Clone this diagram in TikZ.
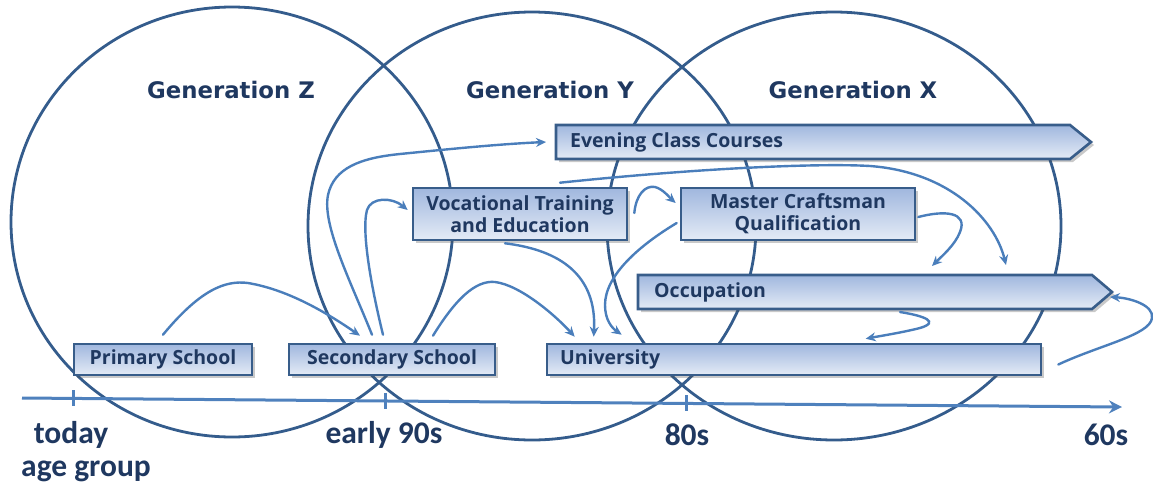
\documentclass[tikz,border=0pt]{standalone}
\usepackage{fontspec}
\setmainfont{Open Sans}
\newfontfamily\genfont{DejaVu Sans}
\newfontfamily\axfont{Carlito}
\usetikzlibrary{arrows.meta,shadows}
\definecolor{circ}{RGB}{52,92,140}
\definecolor{boxdraw}{RGB}{56,93,138}
\definecolor{boxtop}{RGB}{160,183,222}
\definecolor{boxbot}{RGB}{228,235,246}
\definecolor{txt}{RGB}{31,56,96}
\definecolor{arr}{RGB}{74,126,187}
\definecolor{axiscol}{RGB}{79,129,189}
\begin{document}
\begin{tikzpicture}[x=1pt,y=-1pt,
  ring/.style={draw=circ, line width=2.8pt},
  shad/.style={drop shadow={opacity=0.3, shadow xshift=3pt, shadow yshift=-3pt, fill=black!70}},
  box/.style={draw=boxdraw, line width=2.6pt, top color=boxtop, bottom color=boxbot, text=txt,
    font=\bfseries\fontsize{19.5}{22}\selectfont, inner sep=0pt, shad},
  shapebox/.style={draw=boxdraw, line width=2.6pt, top color=boxtop, bottom color=boxbot, shad},
  boxtext/.style={text=txt, font=\bfseries\fontsize{19.5}{22}\selectfont, inner sep=0pt},
  gen/.style={text=txt, font=\genfont\bfseries\fontsize{22.8}{26}\selectfont, inner sep=0pt},
  axl/.style={text=txt, font=\axfont\bfseries\fontsize{31.5}{36}\selectfont, inner sep=0pt},
  conn/.style={draw=arr, line width=2.4pt, line cap=round, -{Stealth[length=10pt,width=9pt]}},
  axisline/.style={draw=axiscol, line width=3pt}
]
\useasboundingbox (0,0) rectangle (1153,485);
\clip (0,0) rectangle (1153,485);

% generation circles
\draw[ring] (232,222) ellipse [x radius=221, y radius=215];
\draw[ring] (532,226) ellipse [x radius=224, y radius=214];
\draw[ring] (834,226) ellipse [x radius=227, y radius=214];

\node[gen] (gz) at (231,90) {Generation Z};
\node[gen] (gy) at (550,90) {Generation Y};
\node[gen] (gx) at (853,90) {Generation X};

% axis
\coordinate (a0) at (22,398);
\coordinate (a1) at (1122,407);
\draw[axisline, -{Stealth[length=13pt,width=13pt]}] (a0) -- (a1);
\draw[axisline] (73,390) -- (73,406);
\draw[axisline] (385,393) -- (385,409);
\draw[axisline] (686,395) -- (686,411);

\node[axl] (t0) at (71,435) {today};
\node[axl] (t1) at (384,435) {early 90s};
\node[axl] (t2) at (687,435) {80s};
\node[axl] (t3) at (1106,435) {60s};
\node[axl, anchor=base west] (ag) at (21,476) {age group};

% boxes
\node[box, minimum width=178, minimum height=31] (ps) at (163,359.5) {Primary School};
\node[box, minimum width=206, minimum height=31] (ss) at (392,359.5) {Secondary School};
\node[box, minimum width=494, minimum height=31, text width=468, align=left] (uni) at (794,359.5) {University};
\node[box, minimum width=214, minimum height=52, align=center] (voc) at (520,214) {Vocational Training\\and Education};
\node[box, minimum width=234, minimum height=52, align=center] (mc) at (798,214) {Master Craftsman\\Qualification};

\path[shapebox] (556,125) -- (1070,125) -- (1091,142) -- (1070,159) -- (556,159) -- cycle;
\node[boxtext, anchor=west] (ev) at (570,142) {Evening Class Courses};
\path[shapebox] (638,275) -- (1092,275) -- (1112,292) -- (1092,309) -- (638,309) -- cycle;
\node[boxtext, anchor=west] (occ) at (654,292) {Occupation};

% connectors
\draw[conn] ([yshift=8pt]ps.north) .. controls (200,290) and (225,280) .. (248,283)
  .. controls (290,290) and (330,315) .. ([xshift=-32pt,yshift=7pt]ss.north);
\draw[conn] ([xshift=-20pt,yshift=8pt]ss.north) .. controls (350,280) and (322,225) .. (328,195)
  .. controls (334,168) and (360,158) .. (400,154) .. controls (450,149) and (500,144) .. ([xshift=-24pt]ev.west);
\draw[conn] ([xshift=-9pt,yshift=8pt]ss.north) .. controls (372,290) and (361,232) .. (367,210)
  .. controls (371,197) and (392,197) .. ([xshift=-4pt,yshift=4pt]voc.west);
\draw[conn] ([xshift=41pt,yshift=7pt]ss.north) .. controls (455,300) and (475,280) .. (495,282)
  .. controls (520,285) and (555,315) .. ([xshift=29pt,yshift=6pt]uni.north west);
\draw[conn] ([xshift=-15pt,yshift=-2pt]voc.south) .. controls (560,250) and (597,275) .. ([xshift=48pt,yshift=6pt]uni.north west);
\draw[conn] ([xshift=-3pt,yshift=-9pt]mc.west) .. controls (640,245) and (605,275) .. (605,305)
  .. controls (605,320) and (612,328) .. ([xshift=76pt,yshift=8pt]uni.north west);
\draw[conn] ([xshift=6pt,yshift=1pt]voc.east) .. controls (636,195) and (645,185) .. (655,187)
  .. controls (663,189) and (670,198) .. ([xshift=-4pt,yshift=11pt]mc.west);
\draw[conn] ([xshift=40pt,yshift=4pt]voc.north) .. controls (700,168) and (820,163) .. (870,166)
  .. controls (950,172) and (995,220) .. ([xshift=352pt,yshift=27pt]occ.west);
\draw[conn] ([xshift=2pt,yshift=-3pt]mc.east) .. controls (945,210) and (968,212) .. (960,232)
  .. controls (955,245) and (942,256) .. ([xshift=278pt,yshift=26pt]occ.west);
\draw[conn] ([xshift=246pt,yshift=-20pt]occ.west) .. controls (925,316) and (940,322) .. (920,328)
  .. controls (900,333) and (880,336) .. ([xshift=320pt,yshift=4pt]uni.north west);
\draw[conn] ([xshift=16pt,yshift=-5pt]uni.east) .. controls (1100,345) and (1150,335) .. (1152,318)
  .. controls (1154,305) and (1130,298) .. ([xshift=456pt,yshift=-5pt]occ.west);
\end{tikzpicture}
\end{document}
